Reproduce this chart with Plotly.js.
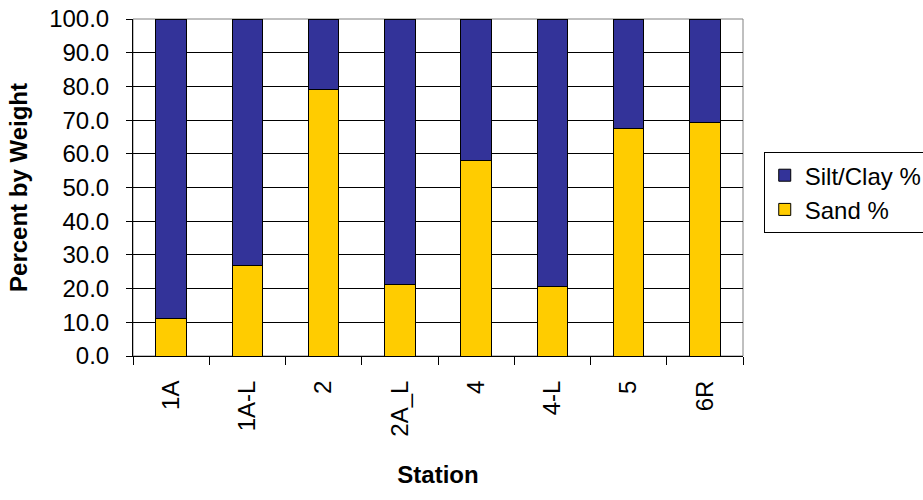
<!DOCTYPE html>
<html>
<head>
<meta charset="utf-8">
<script src="https://cdn.plot.ly/plotly-3.0.1.min.js"></script>
<style>html,body{margin:0;padding:0;background:#fff;}#chart{width:923px;height:500px;}</style>
</head>
<body>
<div id="chart"></div>
<script>
const stations = ["1A", "1A-L", "2", "2A_L", "4", "4-L", "5", "6R"];
const sandPct = [11.0, 27.0, 79.2, 21.1, 57.9, 20.6, 67.5, 69.2];
const siltClayPct = [89.0, 73.0, 20.8, 78.9, 42.1, 79.4, 32.5, 30.8];
const yTicks = [0, 10, 20, 30, 40, 50, 60, 70, 80, 90, 100];

const font = "Liberation Sans, Arial, sans-serif";

const traces = [
  {
    type: "bar", name: "Sand %", x: stations, y: sandPct, legendgroup: "sand",
    marker: {color: "#FFCC00", line: {color: "#000000", width: 1}}
  },
  {
    type: "bar", name: "Silt/Clay %", x: stations, y: siltClayPct, legendgroup: "silt",
    marker: {color: "#333399", line: {color: "#000000", width: 1}}
  }
];

const layout = {
  width: 923, height: 500,
  barmode: "stack", bargap: 0.6,
  paper_bgcolor: "#fff", plot_bgcolor: "#fff",
  margin: {l: 133, r: 180, t: 19, b: 144, autoexpand: false},
  font: {family: font, size: 24, color: "#000"},
  showlegend: true,
  legend: {
    x: 1.034, xanchor: "left", y: 0.605, yanchor: "top",
    traceorder: "reversed",
    bordercolor: "#000", borderwidth: 1,
    font: {family: font, size: 24, color: "#000"},
    itemwidth: 30, tracegroupgap: 10
  },
  xaxis: {
    type: "category",
    tickangle: -90,
    ticks: "outside", ticklen: 8, tickcolor: "#000", tickwidth: 1,
    tickson: "boundaries",
    ticklabelstandoff: 14,
    showline: true, linecolor: "#000", linewidth: 1,
    showgrid: false,
    tickfont: {family: font, size: 24, color: "#000"},
    title: {text: "<b>Station</b>", font: {family: font, size: 24, color: "#000"}, standoff: 30}
  },
  yaxis: {
    range: [0, 100],
    tickvals: yTicks,
    tickformat: ".1f",
    ticks: "outside", ticklen: 6, tickcolor: "#000", tickwidth: 1,
    ticklabelstandoff: 12,
    showline: true, linecolor: "#000", linewidth: 1,
    showgrid: true, gridcolor: "#000", gridwidth: 1,
    zeroline: false,
    tickfont: {family: font, size: 24, color: "#000"},
    title: {text: "<b>Percent by Weight</b>", font: {family: font, size: 24, color: "#000"}, standoff: 14}
  },
  shapes: [
    {type: "rect", xref: "paper", yref: "paper", x0: 0, x1: 1, y0: 0, y1: 1,
     line: {color: "#808080", width: 1}, layer: "below"}
  ]
};

Plotly.newPlot("chart", traces, layout, {displayModeBar: false, staticPlot: true});
</script>
</body>
</html>
